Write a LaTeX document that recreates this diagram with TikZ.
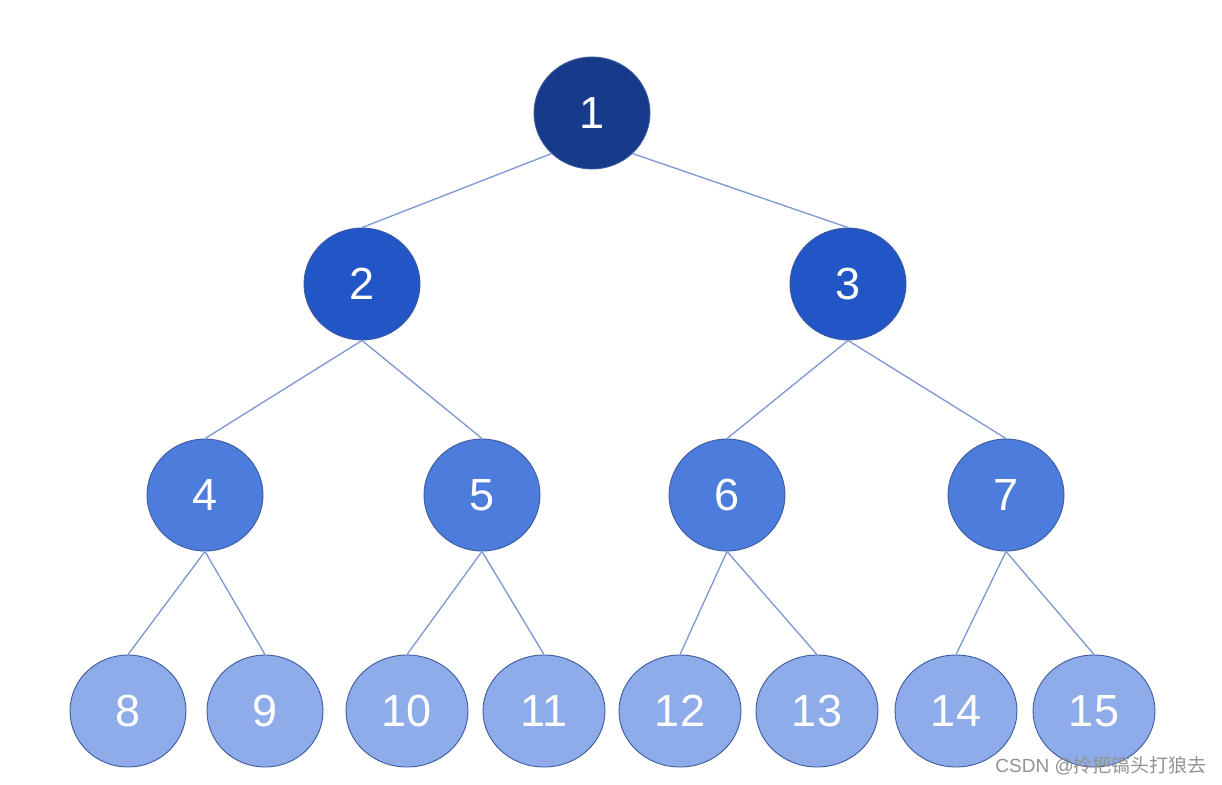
\documentclass[tikz,border=0pt]{standalone}
\usepackage{fontspec}
\setmainfont{Liberation Sans}
\newfontfamily\cjk{Noto Sans CJK SC}
\usetikzlibrary{shapes.geometric}
\definecolor{cA}{HTML}{173A8A}
\definecolor{cB}{HTML}{2255C6}
\definecolor{cC}{HTML}{4C7CDC}
\definecolor{cD}{HTML}{8EABEA}
\definecolor{edgec}{HTML}{7E96D4}
\definecolor{rimc}{HTML}{3D5A9E}
\begin{document}
\begin{tikzpicture}[x=1pt,y=-1pt,
  tn/.style={ellipse,draw=rimc,line width=0.9pt,inner sep=0pt,minimum width=116pt,minimum height=112pt,
    text=white,font=\fontsize{45}{45}\selectfont},
  lv1/.style={tn,fill=cA},
  lv2/.style={tn,fill=cB},
  lv3/.style={tn,fill=cC},
  lv4/.style={tn,fill=cD,minimum width=122pt},
  edge/.style={draw=edgec,line width=1.3pt}]
\useasboundingbox (0,0) rectangle (1222,784);
\fill[white] (0,0) rectangle (1222,784);
\node[lv1] (n1) at (592,113) {1};
\node[lv2] (n2) at (362,284) {2};
\node[lv2] (n3) at (848,284) {3};
\node[lv3] (n4) at (205,495) {4};
\node[lv3] (n5) at (482,495) {5};
\node[lv3] (n6) at (727,495) {6};
\node[lv3] (n7) at (1006,495) {7};
\node[lv4,minimum width=116pt] (n8) at (128,711) {8};
\node[lv4,minimum width=116pt] (n9) at (265,711) {9};
\node[lv4] (n10) at (407,711) {10};
\node[lv4] (n11) at (544,711) {11};
\node[lv4] (n12) at (680,711) {12};
\node[lv4] (n13) at (817,711) {13};
\node[lv4] (n14) at (956,711) {14};
\node[lv4] (n15) at (1094,711) {15};
\draw[edge] (n1.225) -- (n2.north);
\draw[edge] (n1.-45) -- (n3.north);
\draw[edge] (n2.south) -- (n4.north);
\draw[edge] (n2.south) -- (n5.north);
\draw[edge] (n3.south) -- (n6.north);
\draw[edge] (n3.south) -- (n7.north);
\draw[edge] (n4.south) -- (n8.north);
\draw[edge] (n4.south) -- (n9.north);
\draw[edge] (n5.south) -- (n10.north);
\draw[edge] (n5.south) -- (n11.north);
\draw[edge] (n6.south) -- (n12.north);
\draw[edge] (n6.south) -- (n13.north);
\draw[edge] (n7.south) -- (n14.north);
\draw[edge] (n7.south) -- (n15.north);
\node[anchor=east,inner sep=0pt,text=gray!85,font=\fontsize{19}{19}\selectfont] (wm) at (1207,766) {CSDN @{\cjk 拎把镐头打狼去}};
\end{tikzpicture}
\end{document}
